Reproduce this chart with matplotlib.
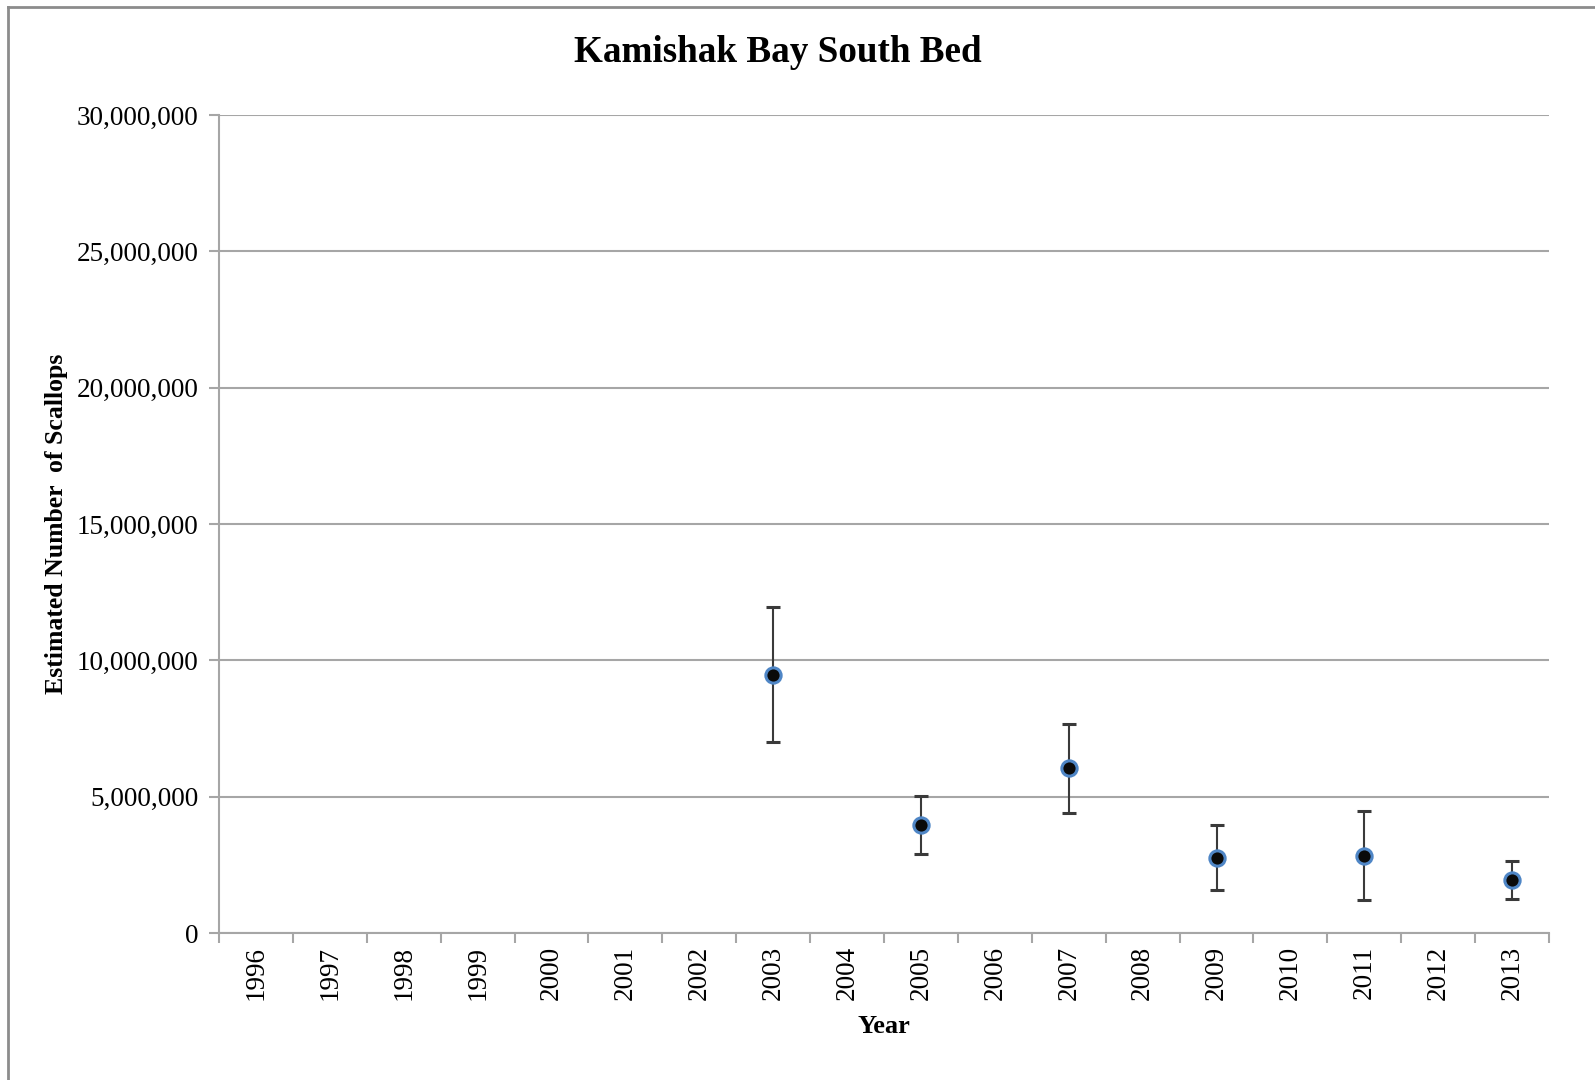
import matplotlib
matplotlib.use("Agg")
import matplotlib.pyplot as plt
from matplotlib.ticker import FuncFormatter, FixedLocator
from matplotlib.lines import Line2D

# Survey years shown on the category axis
years = [str(y) for y in range(1996, 2014)]

# Abundance estimates (number of scallops) and their error half-widths
survey_years = ["2003", "2005", "2007", "2009", "2011", "2013"]
estimates = [9_470_000, 3_960_000, 6_040_000, 2_760_000, 2_840_000, 1_940_000]
errors = [2_480_000, 1_080_000, 1_640_000, 1_200_000, 1_640_000, 710_000]

y_ticks = [0, 5_000_000, 10_000_000, 15_000_000, 20_000_000, 25_000_000, 30_000_000]

serif = ["Liberation Serif", "DejaVu Serif"]
plt.rcParams["font.family"] = serif

fig = plt.figure(figsize=(15.95, 10.8), dpi=100)
ax = fig.add_axes([0.1373, 0.1361, 0.8339, 0.7574])

# chart-area frame (top and left edges)
fig.add_artist(Line2D([8 / 1595, 1.0], [1 - 7 / 1080, 1 - 7 / 1080],
                      transform=fig.transFigure, color="#8c8c8c", lw=2))
fig.add_artist(Line2D([8 / 1595, 8 / 1595], [0.0, 1 - 7 / 1080],
                      transform=fig.transFigure, color="#8c8c8c", lw=2))

xpos = [years.index(y) for y in survey_years]
ax.errorbar(xpos, estimates, yerr=errors, fmt="o", color="#111111",
            ecolor="#3a3a3a", elinewidth=1.5, capsize=5, capthick=1.3,
            markersize=11, markerfacecolor="#0a0a0a",
            markeredgecolor="#4f86c6", markeredgewidth=2.2, zorder=3)

ax.set_xlim(-0.5, len(years) - 0.5)
ax.set_ylim(0, 30_000_000)

ax.set_yticks(y_ticks)
ax.yaxis.set_major_formatter(FuncFormatter(lambda v, p: f"{int(v):,}"))
ax.grid(axis="y", color="#a6a6a6", lw=1.5)
ax.set_axisbelow(True)

ax.set_xticks(range(len(years)))
ax.set_xticklabels(years, rotation=90)
ax.xaxis.set_minor_locator(FixedLocator([i - 0.5 for i in range(len(years) + 1)]))
ax.tick_params(axis="x", which="major", length=0, pad=9, labelsize=19.5)
ax.tick_params(axis="x", which="minor", length=7, width=1.5, color="#a6a6a6")
ax.tick_params(axis="y", length=7, width=1.5, color="#a6a6a6", pad=8, labelsize=19.5)

for side in ("top", "right"):
    ax.spines[side].set_visible(False)
for side in ("left", "bottom"):
    ax.spines[side].set_color("#a6a6a6")
    ax.spines[side].set_linewidth(1.5)

fig.text(778 / 1595, 1 - 52 / 1080, "Kamishak Bay South Bed", fontsize=26.7,
         fontweight="bold", ha="center", va="center")
ax.set_xlabel("Year", fontsize=19, fontweight="bold", labelpad=11)
ax.set_ylabel("Estimated Number  of Scallops", fontsize=18.5, fontweight="bold", labelpad=6)

fig.savefig("out.png", dpi=100)
